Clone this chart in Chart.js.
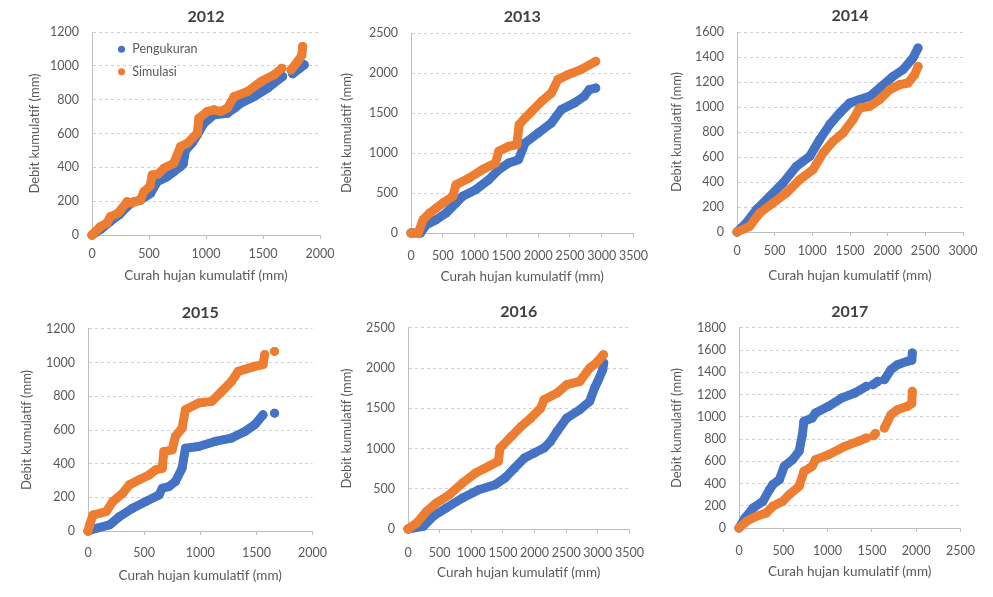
<!DOCTYPE html>
<html>
<head>
<meta charset="utf-8">
<script src="https://cdn.jsdelivr.net/npm/chart.js@4"></script>
<style>
    body { margin: 0; background: #fff; width: 993px; height: 597px; position: relative; overflow: hidden; }
    canvas { position: absolute; }
</style>
</head>
<body>
<script>
// Years (one panel each) and series names
const years = ['2012', '2013', '2014', '2015', '2016', '2017'];
const seriesNames = ['Pengukuran', 'Simulasi'];

// Axis ranges per panel
const xMax = [2000, 3500, 3000, 2000, 3500, 2500];
const xStep = [500, 500, 500, 500, 500, 500];
const yMax = [1200, 2500, 1600, 1200, 2500, 1800];
const yStep = [200, 500, 200, 200, 500, 200];

// [curah hujan kumulatif, debit kumulatif], null = gap
const ukur2012 = [[0,0],[80,35],[160,80],[240,120],[308,168],[360,195],[425,207],[513,246],[572,315],[660,345],[720,375],[777,405],[800,420],[820,500],[880,545],[924,592],[982,661],[1070,710],[1188,720],[1250,750],[1305,779],[1422,818],[1540,868],[1672,937],null,[1760,953],[1804,976],[1862,1006]];
const sim2012 = [[0,0],[73,49],[130,70],[161,108],[230,130],[308,197],[340,190],[425,205],[455,256],[510,290],[528,355],[580,360],[630,394],[718,424],[777,523],[836,542],[924,602],[938,690],[1012,730],[1070,740],[1129,730],[1188,750],[1246,818],[1364,848],[1481,907],[1598,947],[1665,986],null,[1745,976],[1804,1026],[1840,1060],[1848,1114]];

const ukur2013 = [[0,0],[150,0],[243,104],[398,167],[553,250],[708,375],[812,458],[1019,542],[1225,667],[1380,792],[1536,875],[1691,917],[1794,1125],[2001,1250],[2208,1375],[2363,1542],[2570,1625],[2725,1708],[2803,1792],[2906,1812]];
const sim2013 = [[0,0],[114,0],[191,167],[295,250],[398,312],[502,375],[657,458],[708,604],[915,688],[1122,792],[1329,875],[1380,1021],[1536,1083],[1665,1104],[1701,1354],[1794,1437],[1898,1521],[2053,1646],[2208,1750],[2311,1917],[2466,1979],[2673,2042],[2906,2146]];

const ukur2014 = [[0,0],[124,72],[257,179],[434,285],[611,392],[788,525],[965,605],[1097,739],[1230,859],[1363,952],[1496,1032],[1628,1059],[1761,1085],[1894,1152],[2071,1245],[2204,1299],[2336,1392],[2403,1472]];
const sim2014 = [[0,0],[168,45],[301,152],[478,232],[655,312],[832,419],[1009,499],[1142,632],[1274,725],[1407,792],[1540,899],[1628,992],[1761,1005],[1894,1059],[2027,1139],[2159,1179],[2270,1192],[2358,1259],[2403,1325]];

const ukur2015 = [[0,0],[74,16],[191,36],[279,85],[397,135],[515,175],[632,214],[662,254],[721,264],[779,294],[838,373],[868,492],[985,502],[1132,532],[1279,552],[1397,591],[1485,631],[1559,690],null,[1662,700]];
const sim2015 = [[0,0],[15,36],[44,95],[162,115],[221,175],[309,224],[368,274],[456,304],[544,333],[603,363],[662,373],[676,472],[750,482],[779,562],[838,611],[868,720],[985,760],[1103,770],[1191,829],[1279,889],[1338,948],[1485,978],[1559,988],[1574,1048],null,[1662,1067]];

const ukur2016 = [[0,0],[242,33],[397,158],[603,261],[861,386],[1119,489],[1376,551],[1531,634],[1686,759],[1840,883],[1995,945],[2149,1007],[2253,1090],[2356,1215],[2510,1381],[2716,1484],[2871,1588],[2948,1754],[2999,1837],[3077,1982],[3093,2065]];
const sim2016 = [[0,0],[139,75],[294,220],[448,323],[655,427],[861,572],[1067,697],[1273,779],[1428,842],[1454,1007],[1634,1153],[1789,1277],[1943,1381],[2098,1505],[2149,1609],[2356,1692],[2510,1795],[2716,1837],[2871,2002],[2974,2065],[3088,2168]];

const ukur2017 = [[0,0],[67,90],[159,180],[270,240],[344,345],[381,390],[456,435],[511,555],[604,615],[678,690],[715,840],[733,960],[826,990],[863,1035],[1011,1095],[1159,1170],[1307,1215],[1437,1275],null,[1511,1290],[1567,1320],null,[1641,1335],[1715,1425],[1789,1470],[1900,1500],[1950,1510],[1956,1575]];
const sim2017 = [[0,0],[85,60],[196,105],[307,135],[381,195],[493,240],[567,300],[678,375],[733,510],[826,555],[863,615],[1011,660],[1196,735],[1344,780],[1437,810],null,[1520,830],[1540,850],null,[1641,900],[1715,1020],[1789,1065],[1900,1095],[1950,1120],[1956,1230]];

const pengukuran = [ukur2012, ukur2013, ukur2014, ukur2015, ukur2016, ukur2017];
const simulasi = [sim2012, sim2013, sim2014, sim2015, sim2016, sim2017];

// Panel geometry: plot [left, top, right, bottom], y-title x, title y, x-title y, x tick gap
const frames = [
    [92, 32, 320, 235, 35, 17, 276, 7],
    [411, 33, 637, 233, 347, 17, 277, 11],
    [737, 32, 963, 232, 677, 16, 276, 7],
    [88, 329, 315, 531, 27, 313, 576, 10],
    [408, 328, 634, 529, 347, 312, 573, 12],
    [739, 328, 964, 528, 677, 312, 572, 11]
];

const BLUE = '#4472C4';
const ORANGE = '#ED7D31';

Chart.defaults.font.family = 'Lato, "Open Sans", sans-serif';
Chart.defaults.color = '#595959';

// put the legend inside the plot, top left, like the original
const legendNudge = {
    id: 'legendNudge',
    afterLayout(chart) {
        if (!chart.options.plugins.legend.display) return;
        chart.legend.left = chart.chartArea.left + 15;
        chart.legend.top = chart.chartArea.top + 1;
    }
};

const toPoints = (rows) => rows.map(r => r ? { x: r[0], y: r[1] } : { x: null, y: null });

const series = (name, rows, color, order) => ({
    label: name,
    data: toPoints(rows),
    showLine: true,
    borderColor: color,
    backgroundColor: color,
    pointBackgroundColor: color,
    borderWidth: 9,
    borderCapStyle: 'round',
    borderJoinStyle: 'round',
    pointRadius: 4.5,
    pointBorderWidth: 0,
    clip: 10,
    order: order
});

years.forEach((year, i) => {
    const [L, T, R, B, yTitleX, titleY, xTitleY, tickGap] = frames[i];
    const left = Math.round(yTitleX - 8);
    const top = Math.round(titleY - 14);
    const bottom = Math.round(xTitleY + 8);
    const right = R + 22;

    const canvas = document.createElement('canvas');
    canvas.width = right - left;
    canvas.height = bottom - top;
    canvas.style.left = left + 'px';
    canvas.style.top = top + 'px';
    document.body.appendChild(canvas);

    new Chart(canvas, {
        type: 'scatter',
        data: {
            datasets: [
                series(seriesNames[0], pengukuran[i], BLUE, 1),
                series(seriesNames[1], simulasi[i], ORANGE, 0)
            ]
        },
        options: {
            responsive: false,
            animation: false,
            events: [],
            layout: { padding: { left: 0, top: 0, right: 22, bottom: 0 } },
            plugins: {
                title: {
                    display: true,
                    text: year,
                    fullSize: false,
                    color: '#404040',
                    font: { size: 16, weight: 'bold' },
                    padding: { top: titleY - 9.6 - top, bottom: T - titleY - 9.6 }
                },
                legend: {
                    display: i === 0,
                    position: 'chartArea',
                    align: 'start',
                    labels: {
                        usePointStyle: true,
                        boxWidth: 9,
                        boxHeight: 5,
                        padding: 10,
                        color: '#595959',
                        font: { size: 12.5 },
                        sort: (a, b) => a.datasetIndex - b.datasetIndex
                    }
                },
                tooltip: { enabled: false }
            },
            scales: {
                x: {
                    type: 'linear',
                    min: 0,
                    max: xMax[i],
                    ticks: { stepSize: xStep[i], autoSkip: false, maxRotation: 0, padding: tickGap, font: { size: 12.5 }, format: { useGrouping: false } },
                    grid: { drawOnChartArea: false, drawTicks: true, tickLength: 4, color: '#bfbfbf' },
                    border: { color: '#bfbfbf' },
                    title: { display: true, text: 'Curah hujan kumulatif (mm)', font: { size: 13.5 }, padding: 0 },
                    afterFit(scale) { scale.height = bottom - B; }
                },
                y: {
                    min: 0,
                    max: yMax[i],
                    ticks: { stepSize: yStep[i], padding: 13, font: { size: 12.5 }, format: { useGrouping: false } },
                    grid: { drawTicks: false, color: '#d0d0d0' },
                    border: { color: '#bfbfbf', dash: [3, 3] },
                    title: { display: true, text: 'Debit kumulatif (mm)', font: { size: 13 }, padding: 0 },
                    afterFit(scale) { scale.width = L - left; }
                }
            }
        },
        plugins: [legendNudge]
    });
});
</script>
</body>
</html>
